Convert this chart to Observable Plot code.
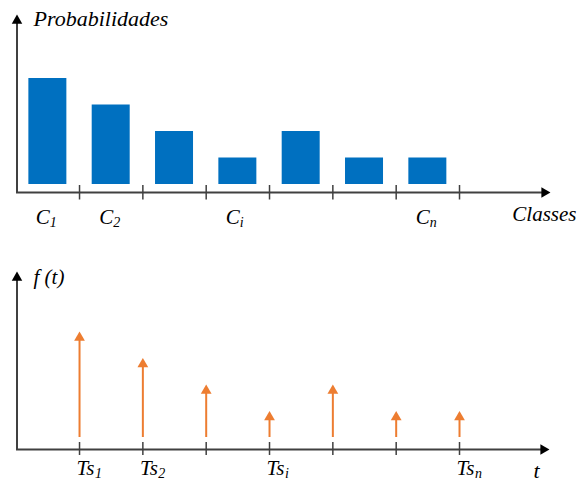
<!DOCTYPE html>
<html><head><meta charset="utf-8">
<script src="https://cdn.jsdelivr.net/npm/d3@7"></script>
<script src="https://cdn.jsdelivr.net/npm/@observablehq/plot@0.6"></script>
<style>
html,body{margin:0;padding:0;background:#fff;}
#chart svg{display:block;}
</style></head><body><div id="chart"></div>
<script>
// ---- data ----
const classLabels = ["C", "C", "", "C", "", "", "C"];
const classSubscripts = ["1", "2", "", "i", "", "", "n"];
const probabilities = [4, 3, 2, 1, 2, 1, 1];
const timeLabels = ["Ts", "Ts", "", "Ts", "", "", "Ts"];
const timeSubscripts = ["1", "2", "", "i", "", "", "n"];
const fValues = [4, 3, 2, 1, 2, 1, 1];
const topYTitle = "Probabilidades";
const topXTitle = "Classes";
const bottomYTitle = "f (t)";
const bottomXTitle = "t";

// ---- style ----
const W = 577;
const AXIS = "#404040", BLUE = "#0070C0", ORANGE = "#ED7D31", INK = "#000";
const FONT = "Liberation Serif";
const x0 = 15.7, ux = 63.33, uy = 26.5;
const X = px => (px - x0) / ux;
const txt = {fontFamily: FONT, fontStyle: "italic", fill: INK, lineAnchor: "bottom"};

function axes(Y, axisPx, yTipPx, xTipPx, tickTop, tickBottom, n) {
  return [
    Plot.ruleY([Y(axisPx)], {x1: X(16), x2: X(xTipPx - 8), stroke: AXIS, strokeWidth: 2}),
    Plot.ruleX([X(16.5)], {y1: Y(axisPx), y2: Y(yTipPx + 8), stroke: AXIS, strokeWidth: 2}),
    Plot.dot([0], {x: X(16.5), y: Y(yTipPx + 6.1), symbol: "triangle", r: 3.9, fill: "#000", stroke: null}),
    Plot.dot([0], {x: X(xTipPx - 6.1), y: Y(axisPx), symbol: "triangle", rotate: 90, r: 3.9, fill: "#000", stroke: null}),
    Plot.ruleX(d3.range(1, n + 1), {y1: Y(tickTop), y2: Y(tickBottom), stroke: AXIS, strokeWidth: 1.5})
  ];
}

// ---- top panel ----
const topBase = 184;
const Yt = px => (topBase - px) / uy;
const classes = probabilities.map((p, i) => ({i, p, label: classLabels[i], sub: classSubscripts[i]}));
const topChart = Plot.plot({
  width: W, height: 240,
  x: {type: "linear", domain: [0, 1], range: [x0, x0 + ux], axis: null},
  y: {type: "linear", domain: [0, 1], range: [topBase, topBase - uy], axis: null},
  marks: [
    Plot.rect(classes, {x1: d => d.i + 0.2, x2: d => d.i + 0.8, y1: 0, y2: "p", fill: BLUE}),
    ...axes(Yt, 192, 14, 550, 185, 199.5, classes.length),
    Plot.text(classes, {x: d => d.i + 0.5, y: Yt(223), text: "label", textAnchor: "end", dx: 2, fontSize: 21, ...txt}),
    Plot.text(classes, {x: d => d.i + 0.5, y: Yt(226.5), text: "sub", textAnchor: "start", dx: 2, fontSize: 14, ...txt}),
    Plot.text([topYTitle], {x: X(33), y: Yt(25), text: d => d, textAnchor: "start", fontSize: 22, ...txt}),
    Plot.text([topXTitle], {x: X(576), y: Yt(220), text: d => d, textAnchor: "end", fontSize: 21, ...txt})
  ]
});

// ---- bottom panel ----
const botBase = 197;
const Yb = px => (botBase - px) / uy;
const times = fValues.map((f, i) => ({i, f, label: timeLabels[i], sub: timeSubscripts[i]}));
const bottomChart = Plot.plot({
  width: W, height: 244,
  x: {type: "linear", domain: [0, 1], range: [x0, x0 + ux], axis: null},
  y: {type: "linear", domain: [0, 1], range: [botBase, botBase - uy], axis: null},
  marks: [
    ...axes(Yb, 209, 31, 549, 202, 215, times.length),
    Plot.ruleX(times, {x: d => d.i + 1, y1: 0, y2: d => d.f - 0.2, stroke: ORANGE, strokeWidth: 2}),
    Plot.dot(times, {x: d => d.i + 1, y: "f", dy: 6.2, symbol: "triangle", r: 4.0, fill: ORANGE, stroke: null}),
    Plot.text(times, {x: d => d.i + 1, y: Yb(234), text: "label", textAnchor: "end", dx: 15, fontSize: 21, ...txt}),
    Plot.text(times, {x: d => d.i + 1, y: Yb(237.5), text: "sub", textAnchor: "start", dx: 15.5, fontSize: 14, ...txt}),
    Plot.text([bottomYTitle], {x: X(33), y: Yb(43), text: d => d, textAnchor: "start", fontSize: 21, ...txt}),
    Plot.text([bottomXTitle], {x: X(533), y: Yb(237), text: d => d, textAnchor: "start", fontSize: 22, ...txt})
  ]
});

document.getElementById("chart").append(topChart, bottomChart);
</script></body></html>
